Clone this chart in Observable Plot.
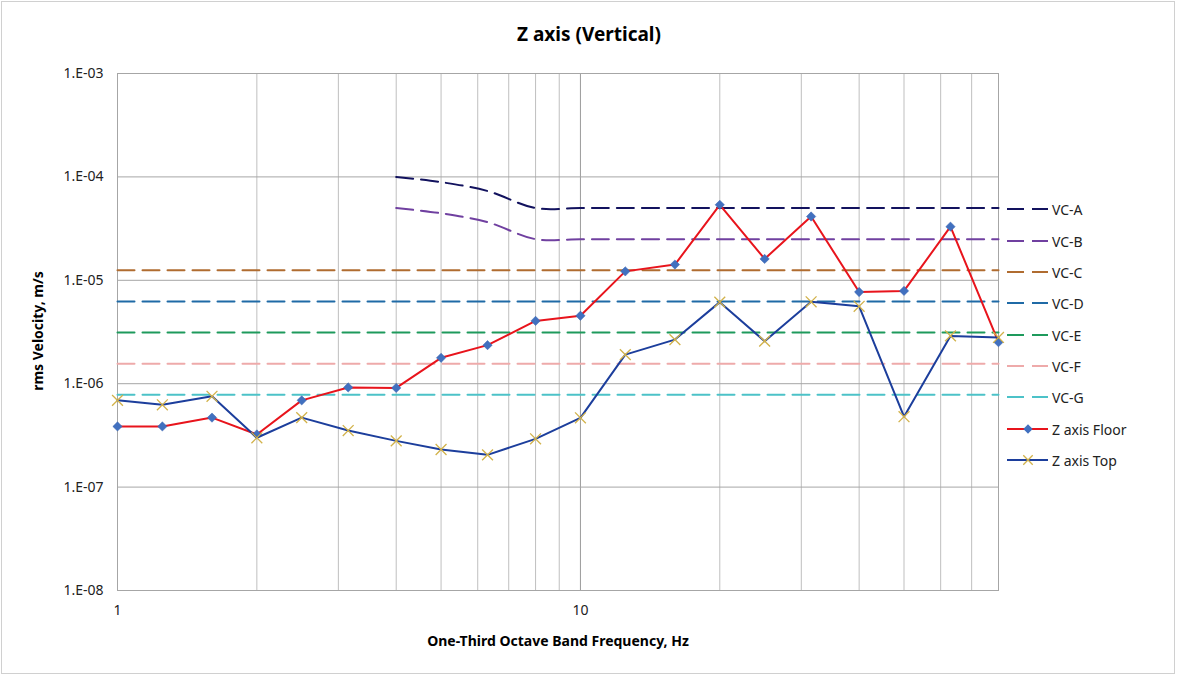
<!DOCTYPE html>
<html>
<head>
<meta charset="utf-8">
<script src="https://cdn.jsdelivr.net/npm/d3@7"></script>
<script src="https://cdn.jsdelivr.net/npm/@observablehq/plot@0.6"></script>
<style>
  body { margin: 0; background: #fff; font-family: "Noto Sans", sans-serif; }
  #chart { position: relative; width: 1178px; height: 677px; overflow: hidden; background: #fff; }
  #border { position: absolute; left: 1px; top: 1px; width: 1174px; height: 673px; border: 1px solid #d0d0d0; box-sizing: border-box; pointer-events: none; }
  #title { position: absolute; left: 0; width: 1178px; top: 21px; text-align: center; font-size: 19px; font-weight: bold; color: #000; }
  #ylabel { position: absolute; left: 37px; top: 331px; transform: translate(-50%, -50%) rotate(-90deg); white-space: nowrap; font-size: 14px; font-weight: bold; color: #000; }
  #xlabel { position: absolute; left: 558px; top: 631px; transform: translateX(-50%); white-space: nowrap; font-size: 14px; font-weight: bold; color: #000; }
  #plot { position: absolute; left: 0; top: 0; }
  #legend { position: absolute; left: 1005px; top: 0; }
  .item { position: absolute; left: 0; height: 20px; display: flex; align-items: center; white-space: nowrap; font-size: 14px; color: #222; }
  .item svg { margin-right: 3px; }
</style>
</head>
<body>
<div id="chart">
  <div id="plot"></div>
  <div id="title">Z axis (Vertical)</div>
  <div id="ylabel">rms Velocity, m/s</div>
  <div id="xlabel">One-Third Octave Band Frequency, Hz</div>
  <div id="legend"></div>
  <div id="border"></div>
</div>
<script>
// ---- data ----
const freqs = [1, 1.25, 1.6, 2, 2.5, 3.15, 4, 5, 6.3, 8, 10, 12.5, 16, 20, 25, 31.5, 40, 50, 63, 80];
const floorVals = [3.86e-7, 3.86e-7, 4.7e-7, 3.23e-7, 6.9e-7, 9.2e-7, 9.1e-7, 1.78e-6, 2.36e-6, 4.05e-6, 4.54e-6, 1.22e-5, 1.42e-5, 5.37e-5, 1.61e-5, 4.14e-5, 7.7e-6, 7.9e-6, 3.3e-5, 2.52e-6];
const topVals = [6.9e-7, 6.25e-7, 7.55e-7, 3.0e-7, 4.7e-7, 3.52e-7, 2.8e-7, 2.31e-7, 2.05e-7, 2.93e-7, 4.68e-7, 1.91e-6, 2.67e-6, 6.15e-6, 2.58e-6, 6.2e-6, 5.6e-6, 4.8e-7, 2.9e-6, 2.8e-6];

const vcABFreqs = [4, 5, 6.3, 8, 10, 12.5, 16, 20, 25, 31.5, 40, 50, 63, 80];
const vcAVals = [1.0e-4, 8.9e-5, 7.3e-5, 5.0e-5, 5.0e-5, 5.0e-5, 5.0e-5, 5.0e-5, 5.0e-5, 5.0e-5, 5.0e-5, 5.0e-5, 5.0e-5, 5.0e-5];
const vcBVals = [5.0e-5, 4.45e-5, 3.65e-5, 2.5e-5, 2.5e-5, 2.5e-5, 2.5e-5, 2.5e-5, 2.5e-5, 2.5e-5, 2.5e-5, 2.5e-5, 2.5e-5, 2.5e-5];
const vcFlatFreqs = [1, 80];
const vcCLevel = 1.25e-5;
const vcDLevel = 6.25e-6;
const vcELevel = 3.12e-6;
const vcFLevel = 1.56e-6;
const vcGLevel = 7.8e-7;

const seriesNames = ["VC-A", "VC-B", "VC-C", "VC-D", "VC-E", "VC-F", "VC-G", "Z axis Floor", "Z axis Top"];
const seriesColors = ["#12125e", "#7040a0", "#b06c30", "#1f6aa6", "#1e9a5c", "#eeaaaa", "#4cc2c8", "#e8141c", "#1c3e9c"];

const yTicks = [1e-3, 1e-4, 1e-5, 1e-6, 1e-7, 1e-8];
const xTickLabels = [1, 10];
const xGridMajor = [1, 10];
const xGridMinor = [2, 3, 4, 5, 6, 7, 8, 9, 20, 30, 40, 50, 60, 70];

// ---- tables ----
const rows = (xs, ys) => xs.map((f, i) => ({f, v: ys[i]}));
const flat = (lvl) => vcFlatFreqs.map(f => ({f, v: lvl}));
const floorData = rows(freqs, floorVals);
const topData = rows(freqs, topVals);
const vcA = rows(vcABFreqs, vcAVals);
const vcB = rows(vcABFreqs, vcBVals);
const flats = [vcCLevel, vcDLevel, vcELevel, vcFLevel, vcGLevel].map(flat);

const dash = "17,8";
const fmtY = d => {
  const e = Math.round(Math.log10(d));
  return "1.E" + (e < 0 ? "-" : "+") + String(Math.abs(e)).padStart(2, "0");
};

const plot = Plot.plot({
  width: 1178,
  height: 677,
  marginLeft: 117,
  marginRight: 180,
  marginTop: 73,
  marginBottom: 87,
  style: {fontFamily: "'Noto Sans', sans-serif", fontSize: "14px", color: "#222", background: "transparent"},
  x: {type: "log", domain: [1, 80]},
  y: {type: "log", domain: [1e-8, 1e-3]},
  marks: [
    Plot.gridX(xGridMinor, {stroke: "#bfbfbf", strokeOpacity: 1, strokeWidth: 1}),
    Plot.gridX(xGridMajor, {stroke: "#9a9a9a", strokeOpacity: 1, strokeWidth: 1}),
    Plot.gridY(yTicks, {stroke: "#a6a6a6", strokeOpacity: 1, strokeWidth: 1}),
    Plot.frame({stroke: "#a6a6a6"}),
    Plot.axisY(yTicks, {tickFormat: fmtY, tickSize: 0, tickPadding: 14, label: null, fontSize: 14}),
    Plot.axisX(xTickLabels, {tickFormat: d => String(d), tickSize: 0, tickPadding: 15, label: null, fontSize: 14}),
    Plot.line(vcA, {x: "f", y: "v", stroke: seriesColors[0], strokeWidth: 2, strokeDasharray: dash, curve: "catmull-rom"}),
    Plot.line(vcB, {x: "f", y: "v", stroke: seriesColors[1], strokeWidth: 2, strokeDasharray: dash, curve: "catmull-rom"}),
    ...flats.map((d, i) => Plot.line(d, {x: "f", y: "v", stroke: seriesColors[2 + i], strokeWidth: 2, strokeDasharray: dash})),
    Plot.line(floorData, {x: "f", y: "v", stroke: seriesColors[7], strokeWidth: 2}),
    Plot.dot(floorData, {x: "f", y: "v", symbol: "diamond2", r: 4.2, fill: "#4170bf", stroke: "#3a65b0", strokeWidth: 0.5}),
    Plot.line(topData, {x: "f", y: "v", stroke: seriesColors[8], strokeWidth: 2}),
    Plot.dot(topData, {x: "f", y: "v", symbol: "times", r: 5, stroke: "#d2b24a", strokeWidth: 1.3, fill: "none"})
  ]
});
document.getElementById("plot").appendChild(plot);

// ---- legend ----
const legendY = [209, 241, 272, 303, 335, 366, 397, 429, 460];
const legend = d3.select("#legend");
seriesNames.forEach((name, i) => {
  const item = legend.append("div").attr("class", "item").style("top", (legendY[i] - 10) + "px");
  const svg = item.append("svg").attr("width", 44).attr("height", 20);
  if (i < 7) {
    svg.append("line").attr("x1", 2).attr("x2", 43).attr("y1", 10).attr("y2", 10)
      .attr("stroke", seriesColors[i]).attr("stroke-width", 2).attr("stroke-dasharray", "17,8");
  } else {
    svg.append("line").attr("x1", 2).attr("x2", 43).attr("y1", 10).attr("y2", 10)
      .attr("stroke", seriesColors[i]).attr("stroke-width", 2);
    if (i === 7) {
      svg.append("path").attr("d", d3.symbol(d3.symbolDiamond2, 55)()).attr("transform", "translate(23,10)").attr("fill", "#4170bf");
    } else {
      svg.append("path").attr("d", d3.symbol(d3.symbolTimes, 60)()).attr("transform", "translate(23,10)")
        .attr("fill", "none").attr("stroke", "#d2b24a").attr("stroke-width", 1.3);
    }
  }
  item.append("span").text(name);
});
</script>
</body>
</html>
